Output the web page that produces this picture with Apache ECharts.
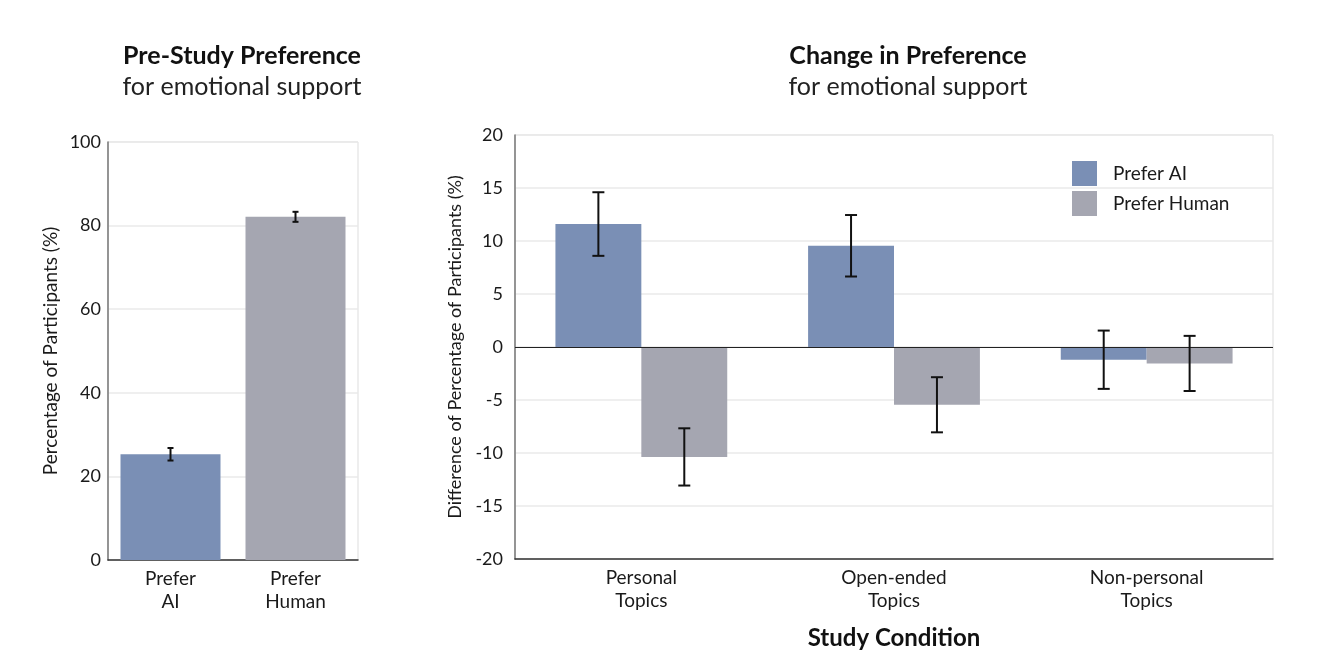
<!DOCTYPE html>
<html><head><meta charset="utf-8">
<script src="https://cdn.jsdelivr.net/npm/echarts@6/dist/echarts.min.js"></script>
<style>html,body{margin:0;padding:0;background:#fff}#c{width:1334px;height:666px}</style>
</head><body><div id="c"></div>
<script>
// ---- data ----
const preCategories = ['Prefer\nAI', 'Prefer\nHuman'];
const preValues = [25.3, 82.1];
const preErrors = [1.5, 1.2];

const changeCategories = ['Personal\nTopics', 'Open-ended\nTopics', 'Non-personal\nTopics'];
const changeAI = [11.6, 9.55, -1.2];
const changeAIErr = [3.0, 2.9, 2.75];
const changeHuman = [-10.37, -5.45, -1.55];
const changeHumanErr = [2.7, 2.6, 2.6];

const seriesNames = ['Prefer AI', 'Prefer Human'];
const preYTicks = { min: 0, max: 100, interval: 20 };
const changeYTicks = { min: -20, max: 20, interval: 5 };

// ---- style ----
const FONT = 'Lato';
const BLUE = '#7A8FB5';
const GRAY = '#A5A6B1';
const TXT = '#1a1a1a';
const CAT_GAP = 0.32;

const chart = echarts.init(document.getElementById('c'));

function errRender(offsetSign, gapFrac, capHalf) {
  return function (params, api) {
    const x = api.value(0), lo = api.value(1), hi = api.value(2);
    const band = api.size([1, 0])[0];
    let off = 0;
    if (offsetSign !== 0) {
      const bw = band * (1 - gapFrac) / 2;
      off = offsetSign * bw / 2;
    }
    const pLo = api.coord([x, lo]);
    const pHi = api.coord([x, hi]);
    const cx = pLo[0] + off;
    const st = { stroke: '#111', lineWidth: 2 };
    return {
      type: 'group',
      children: [
        { type: 'line', shape: { x1: cx, y1: pLo[1], x2: cx, y2: pHi[1] }, style: st },
        { type: 'line', shape: { x1: cx - capHalf, y1: pLo[1], x2: cx + capHalf, y2: pLo[1] }, style: st },
        { type: 'line', shape: { x1: cx - capHalf, y1: pHi[1], x2: cx + capHalf, y2: pHi[1] }, style: st }
      ]
    };
  };
}

const preErrData = preValues.map((v, i) => [i, v - preErrors[i], v + preErrors[i]]);
const aiErrData = changeAI.map((v, i) => [i, v - changeAIErr[i], v + changeAIErr[i]]);
const huErrData = changeHuman.map((v, i) => [i, v - changeHumanErr[i], v + changeHumanErr[i]]);

const catLabelStyle = { color: TXT, fontFamily: FONT, fontSize: 19, lineHeight: 23 };
const valLabelStyle = { color: TXT, fontFamily: FONT, fontSize: 18 };

chart.setOption({
  animation: false,
  textStyle: { fontFamily: FONT },
  title: [
    { text: 'Pre-Study Preference', subtext: 'for emotional support', left: 237, top: 38, textAlign: 'center', itemGap: 6,
      textStyle: { fontFamily: FONT, fontSize: 25, fontWeight: 'bold', color: '#111' },
      subtextStyle: { fontFamily: FONT, fontSize: 25, color: '#222' } },
    { text: 'Change in Preference', subtext: 'for emotional support', left: 903, top: 38, textAlign: 'center', itemGap: 6,
      textStyle: { fontFamily: FONT, fontSize: 25, fontWeight: 'bold', color: '#111' },
      subtextStyle: { fontFamily: FONT, fontSize: 25, color: '#222' } }
  ],
  legend: {
    data: seriesNames, orient: 'vertical', left: 1072, top: 161, padding: 0, itemWidth: 25, itemHeight: 25, itemGap: 5,
    icon: 'rect', textStyle: { fontFamily: FONT, fontSize: 19, color: TXT, padding: [0, 0, 0, 11] }
  },
  grid: [
    { left: 108, top: 142, width: 250, height: 418, show: true, borderColor: '#ddd', borderWidth: 1 },
    { left: 515, top: 135, width: 758, height: 424, show: true, borderColor: '#ddd', borderWidth: 1 }
  ],
  xAxis: [
    { type: 'category', gridIndex: 0, data: preCategories,
      axisLine: { lineStyle: { color: '#333', width: 1.5 } },
      axisTick: { alignWithLabel: true, length: 5, lineStyle: { color: '#333' } },
      axisLabel: Object.assign({ margin: 7 }, catLabelStyle) },
    { type: 'category', gridIndex: 1, data: changeCategories,
      axisLine: { onZero: false, lineStyle: { color: '#333', width: 1.5 } },
      axisTick: { alignWithLabel: true, length: 5, lineStyle: { color: '#333' } },
      axisLabel: Object.assign({ margin: 7 }, catLabelStyle),
      name: 'Study Condition', nameLocation: 'middle', nameGap: 67,
      nameTextStyle: { fontFamily: FONT, fontSize: 24, fontWeight: 'bold', color: '#111' } }
  ],
  yAxis: [
    { type: 'value', gridIndex: 0, min: preYTicks.min, max: preYTicks.max, interval: preYTicks.interval,
      axisLine: { show: true, lineStyle: { color: '#777', width: 1.5 } }, axisTick: { show: false },
      splitLine: { lineStyle: { color: '#eaeaea', width: 1.5 } },
      axisLabel: Object.assign({ margin: 7 }, valLabelStyle),
      name: 'Percentage of Participants (%)', nameLocation: 'middle', nameGap: 48,
      nameTextStyle: { fontFamily: FONT, fontSize: 19, color: TXT } },
    { type: 'value', gridIndex: 1, min: changeYTicks.min, max: changeYTicks.max, interval: changeYTicks.interval,
      axisLine: { show: true, lineStyle: { color: '#777', width: 1.5 } }, axisTick: { show: false },
      splitLine: { lineStyle: { color: '#eaeaea', width: 1.5 } },
      axisLabel: Object.assign({ margin: 12 }, valLabelStyle),
      name: 'Difference of Percentage of Participants (%)', nameLocation: 'middle', nameGap: 45,
      nameTextStyle: { fontFamily: FONT, fontSize: 18, color: TXT } }
  ],
  series: [
    { type: 'bar', xAxisIndex: 0, yAxisIndex: 0, barCategoryGap: '20%', silent: true,
      data: preValues.map((v, i) => ({ value: v, itemStyle: { color: i === 0 ? BLUE : GRAY } })) },
    { type: 'custom', xAxisIndex: 0, yAxisIndex: 0, renderItem: errRender(0, 0, 3), data: preErrData, z: 5, silent: true },
    { name: seriesNames[0], type: 'bar', xAxisIndex: 1, yAxisIndex: 1, barGap: '0%', barCategoryGap: (CAT_GAP * 100) + '%',
      itemStyle: { color: BLUE }, data: changeAI, silent: true,
      markLine: { silent: true, symbol: 'none', label: { show: false }, lineStyle: { color: '#222', width: 1.2, type: 'solid' }, data: [{ yAxis: 0 }] } },
    { name: seriesNames[1], type: 'bar', xAxisIndex: 1, yAxisIndex: 1, barGap: '0%', barCategoryGap: (CAT_GAP * 100) + '%',
      itemStyle: { color: GRAY }, data: changeHuman, silent: true },
    { type: 'custom', xAxisIndex: 1, yAxisIndex: 1, renderItem: errRender(-1, CAT_GAP, 6), data: aiErrData, z: 5, silent: true },
    { type: 'custom', xAxisIndex: 1, yAxisIndex: 1, renderItem: errRender(1, CAT_GAP, 6), data: huErrData, z: 5, silent: true }
  ]
});
</script>
</body></html>
